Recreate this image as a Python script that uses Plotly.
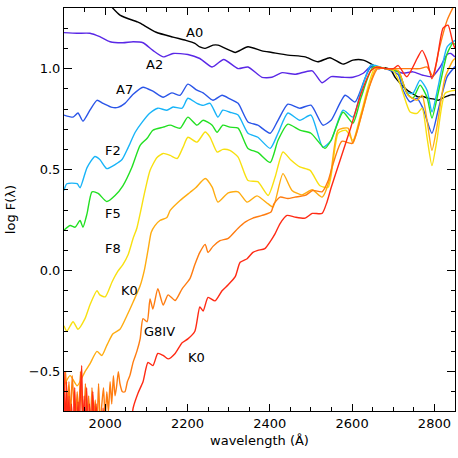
import plotly.graph_objects as go

# ---- data (wavelength in Angstrom, log F) ----
a0_wave = [2005, 2036, 2077, 2085, 2124, 2165, 2196, 2218, 2230, 2243, 2262, 2274, 2303, 2316, 2347,
           2381, 2405, 2444, 2486, 2517, 2546, 2578, 2602, 2627, 2651, 2663, 2680, 2695, 2705, 2720,
           2736, 2748, 2760, 2772, 2785, 2797, 2809, 2821, 2833, 2840, 2850]
a0_logf = [1.33, 1.265, 1.232, 1.225, 1.18, 1.156, 1.14, 1.125, 1.107, 1.1, 1.116, 1.116, 1.09, 1.08, 1.108,
           1.088, 1.08, 1.067, 1.058, 1.034, 1.054, 1.022, 1.042, 1.042, 1.017, 1.0, 1.005, 0.99, 0.955, 0.92,
           0.89, 0.875, 0.86, 0.862, 0.853, 0.85, 0.843, 0.855, 0.865, 0.87, 0.87]

a2_wave = [1900, 1932, 1963, 1987, 2012, 2043, 2068, 2092, 2116, 2141, 2165, 2201, 2230, 2260, 2288,
           2323, 2347, 2381, 2405, 2430, 2461, 2503, 2527, 2549, 2578, 2602, 2627, 2644, 2660, 2680,
           2700, 2724, 2748, 2772, 2794, 2814, 2831, 2840, 2850]
a2_logf = [1.178, 1.175, 1.175, 1.158, 1.133, 1.128, 1.133, 1.128, 1.09, 1.058, 1.075, 1.07, 1.05, 1.008, 1.045,
           1.0, 1.008, 0.957, 0.957, 0.98, 0.972, 0.989, 0.93, 0.96, 0.957, 0.957, 0.977, 1.008, 1.01, 1.0,
           0.993, 0.977, 0.984, 0.967, 0.96, 1.008, 1.07, 1.075, 1.058]

a7_wave = [1900, 1922, 1934, 1946, 1963, 1980, 1995, 2017, 2031, 2048, 2068, 2092, 2116, 2141, 2162,
           2182, 2201, 2223, 2238, 2262, 2284, 2303, 2323, 2347, 2371, 2401, 2420, 2444, 2473, 2500,
           2529, 2549, 2583, 2607, 2631, 2646, 2680, 2712, 2724, 2741, 2758, 2772, 2794, 2809, 2831, 2850]
a7_logf = [0.77, 0.76, 0.78, 0.74, 0.794, 0.843, 0.828, 0.808, 0.808, 0.828, 0.873, 0.908, 0.888, 0.858, 0.88,
           0.868, 0.923, 0.893, 0.88, 0.843, 0.868, 0.85, 0.828, 0.736, 0.72, 0.68, 0.744, 0.824, 0.804, 0.819,
           0.72, 0.744, 0.868, 0.835, 0.95, 1.008, 1.0, 0.97, 0.893, 0.835, 0.853, 0.804, 0.68, 0.794, 0.96, 1.01]

f2_wave = [1900, 1907, 1932, 1939, 1956, 1975, 1987, 2004, 2024, 2041, 2056, 2073, 2090, 2109, 2128,
           2150, 2165, 2187, 2201, 2223, 2238, 2255, 2274, 2286, 2303, 2323, 2347, 2371, 2401, 2420,
           2444, 2473, 2500, 2529, 2549, 2578, 2602, 2622, 2646, 2680, 2712, 2733, 2748, 2765, 2782,
           2794, 2809, 2831, 2850]
f2_logf = [0.397, 0.43, 0.43, 0.41, 0.51, 0.565, 0.55, 0.505, 0.525, 0.55, 0.61, 0.685, 0.735, 0.78, 0.804,
           0.794, 0.81, 0.804, 0.853, 0.828, 0.818, 0.828, 0.76, 0.794, 0.784, 0.77, 0.68, 0.66, 0.605, 0.68,
           0.78, 0.744, 0.77, 0.61, 0.645, 0.794, 0.76, 0.893, 1.017, 1.0, 0.985, 0.883, 0.878, 0.943, 0.893,
           0.785, 0.91, 1.108, 1.14]

f5_wave = [1900, 1915, 1927, 1939, 1946, 1956, 1968, 1983, 2004, 2024, 2043, 2065, 2085, 2102, 2116,
           2141, 2158, 2182, 2201, 2223, 2238, 2260, 2272, 2286, 2303, 2323, 2347, 2371, 2401, 2420,
           2444, 2473, 2500, 2534, 2549, 2578, 2602, 2622, 2651, 2680, 2712, 2733, 2748, 2765, 2782,
           2794, 2809, 2831, 2845, 2850]
f5_logf = [0.2, 0.223, 0.215, 0.248, 0.215, 0.282, 0.39, 0.382, 0.342, 0.372, 0.42, 0.512, 0.62, 0.655, 0.695,
           0.71, 0.72, 0.705, 0.76, 0.72, 0.744, 0.72, 0.685, 0.72, 0.71, 0.705, 0.605, 0.585, 0.535, 0.645,
           0.725, 0.695, 0.68, 0.605, 0.645, 0.784, 0.73, 0.858, 1.008, 1.0, 0.985, 0.878, 0.853, 0.918, 0.858,
           0.755, 0.878, 1.075, 1.126, 1.12]

f8_wave = [1900, 1907, 1922, 1934, 1951, 1963, 1980, 1987, 2000, 2017, 2031, 2043, 2056, 2068, 2077,
           2085, 2097, 2109, 2126, 2141, 2158, 2175, 2189, 2201, 2223, 2243, 2255, 2272, 2286, 2303,
           2323, 2347, 2371, 2396, 2413, 2432, 2452, 2473, 2498, 2522, 2542, 2566, 2585, 2602, 2622,
           2656, 2680, 2700, 2716, 2724, 2741, 2758, 2770, 2782, 2794, 2806, 2826, 2850]
f8_logf = [-0.273, -0.3, -0.253, -0.29, -0.238, -0.17, -0.1, -0.12, -0.13, -0.055, -0.003, 0.03, 0.08, 0.16, 0.21,
           0.282, 0.397, 0.496, 0.56, 0.58, 0.57, 0.555, 0.61, 0.66, 0.636, 0.686, 0.66, 0.587, 0.6, 0.595,
           0.562, 0.446, 0.44, 0.372, 0.463, 0.587, 0.546, 0.513, 0.496, 0.42, 0.413, 0.68, 0.695, 0.645, 0.78,
           1.008, 1.0, 0.99, 0.928, 0.878, 0.785, 0.778, 0.804, 0.66, 0.52, 0.645, 0.878, 0.893]

k0a_wave = [1900, 1915, 1932, 1951, 1963, 1980, 1992, 2004, 2019, 2036, 2053, 2068, 2085, 2095, 2104,
            2112, 2121, 2133, 2150, 2158, 2182, 2206, 2220, 2243, 2260, 2274, 2299, 2323, 2345, 2369,
            2396, 2408, 2432, 2454, 2478, 2503, 2527, 2546, 2566, 2590, 2602, 2627, 2658, 2680, 2712,
            2724, 2736, 2758, 2770, 2782, 2794, 2806, 2826, 2845, 2850]
k0a_logf = [-0.57, -0.52, -0.57, -0.5, -0.462, -0.4, -0.42, -0.37, -0.313, -0.29, -0.222, -0.155, -0.075, 0.0, 0.1,
            0.19, 0.223, 0.248, 0.263, 0.298, 0.347, 0.387, 0.41, 0.456, 0.413, 0.339, 0.385, 0.39, 0.339, 0.37,
            0.33, 0.315, 0.48, 0.397, 0.375, 0.4, 0.364, 0.456, 0.695, 0.705, 0.63, 0.8, 1.0, 1.0, 0.99,
            0.93, 0.868, 0.843, 0.868, 0.744, 0.595, 0.71, 0.957, 1.04, 1.05]

g8_wave = [1900, 1904, 1908, 1912, 1916, 1920, 1924, 1928, 1932, 1936, 1940, 1944, 1948, 1952, 1956,
           1960, 1964, 1968, 1972, 1976, 1980, 1984, 1988, 1992, 1996, 2000, 2004, 2008, 2012, 2016,
           2020, 2024, 2028, 2032, 2036, 2042, 2048, 2054, 2060, 2068,
           2077, 2085, 2092, 2102, 2109, 2116, 2128, 2141, 2153, 2170, 2187, 2206, 2218, 2230, 2243,
           2250, 2262, 2279, 2299, 2323, 2340, 2359, 2381, 2403, 2410, 2425, 2444, 2461, 2486, 2505,
           2527, 2542, 2554, 2575, 2600, 2620, 2640, 2662, 2690, 2716, 2741, 2765, 2782, 2797, 2809,
           2831, 2852]
g8_logf = [-0.62, -0.5, -0.7, -0.55, -0.72, -0.52, -0.66, -0.75, -0.6, -0.72, -0.5, -0.68, -0.78, -0.56, -0.72,
           -0.62, -0.78, -0.58, -0.74, -0.64, -0.78, -0.56, -0.76, -0.66, -0.58, -0.74, -0.6, -0.7, -0.55, -0.66,
           -0.52, -0.62, -0.57, -0.5, -0.56, -0.6, -0.6, -0.55, -0.52, -0.453,
           -0.4, -0.338, -0.238, -0.253, -0.14, -0.19, -0.09, -0.17, -0.12, -0.148, -0.09, -0.04, 0.03, 0.09, 0.13,
           0.09, 0.12, 0.148, 0.16, 0.21, 0.24, 0.26, 0.273, 0.29, 0.33, 0.364, 0.357, 0.364, 0.372, 0.397,
           0.39, 0.446, 0.53, 0.64, 0.63, 0.75, 0.9, 1.0, 1.0, 1.0, 1.0, 1.0, 1.008, 0.96, 1.075,
           1.24, 1.33]

k0b_wave = [1900, 1903, 1906, 1909, 1912, 1915, 1918, 1922, 1926, 1930, 1934, 1937, 1940, 1943, 1946,
            1949, 1952, 1955, 1958, 1962, 1966, 1970, 1974, 1978, 1982, 1986, 1990, 1995, 2000, 2005,
            2010, 2015, 2022, 2030, 2038, 2045, 2052, 2060, 2068, 2080, 2092, 2104, 2116, 2128, 2141,
            2153, 2170, 2187,
            2201, 2218, 2230, 2238, 2250, 2267, 2284, 2299, 2316, 2328, 2345, 2359, 2371, 2388, 2403,
            2413, 2425, 2442, 2461, 2486, 2503, 2527, 2539, 2549, 2573, 2597, 2622, 2646, 2660, 2680,
            2700, 2712, 2733, 2758, 2770, 2782, 2794, 2806, 2821, 2833, 2845, 2850]
k0b_logf = [-0.5, -0.8, -0.55, -0.78, -0.62, -0.82, -0.66, -0.8, -0.58, -0.82, -0.65, -0.8, -0.6, -0.47, -0.8,
            -0.62, -0.82, -0.58, -0.8, -0.66, -0.82, -0.6, -0.8, -0.66, -0.82, -0.7, -0.84, -0.68, -0.82, -0.72,
            -0.85, -0.7, -0.84, -0.75, -0.86, -0.8, -0.86, -0.8, -0.68, -0.606, -0.55, -0.455, -0.47, -0.41, -0.42,
            -0.437, -0.41, -0.357,
            -0.338, -0.3, -0.18, -0.2, -0.133, -0.15, -0.1, -0.07, -0.03, 0.041, 0.059, 0.09, 0.1, 0.109, 0.15,
            0.183, 0.233, 0.273, 0.265, 0.26, 0.283, 0.283, 0.34, 0.41, 0.56, 0.71, 0.878, 0.99, 1.008, 1.0,
            1.0, 1.015, 0.96, 1.05, 1.09, 1.04, 0.95, 1.04, 1.2, 1.215, 1.126, 1.1]

series = [
    ("A0", a0_wave, a0_logf, "#000000"),
    ("A2", a2_wave, a2_logf, "#5a28e6"),
    ("A7", a7_wave, a7_logf, "#2a55e8"),
    ("F2", f2_wave, f2_logf, "#18b4f8"),
    ("F5", f5_wave, f5_logf, "#22e022"),
    ("F8", f8_wave, f8_logf, "#f8e010"),
    ("K0", k0a_wave, k0a_logf, "#ffac10"),
    ("G8IV", g8_wave, g8_logf, "#ff7c10"),
    ("K0 ", k0b_wave, k0b_logf, "#ff2a14"),
]

label_text = ["A0", "A2", "A7", "F2", "F5", "F8", "K0", "G8IV", "K0"]
label_x = [2218, 2119, 2048, 2019, 2019, 2019, 2060, 2133, 2221]
label_y = [1.178, 1.02, 0.898, 0.595, 0.283, 0.107, -0.10, -0.303, -0.432]

FONT = "DejaVu Sans"

fig = go.Figure()
for name, w, f, c in series:
    fig.add_trace(go.Scatter(x=w, y=f, mode="lines", name=name,
                             line=dict(color=c, width=1.4, shape="spline", smoothing=0.6),
                             showlegend=False))

for t, x, y in zip(label_text, label_x, label_y):
    fig.add_annotation(x=x, y=y, text=t, showarrow=False,
                       font=dict(size=13, color="black", family=FONT))

axis_common = dict(showline=True, linecolor="black", linewidth=1, mirror="allticks",
                   ticks="inside", tickcolor="black", showgrid=False, zeroline=False,
                   automargin=False,
                   tickfont=dict(size=13, color="black", family=FONT))

fig.update_layout(
    width=458, height=458,
    margin=dict(l=64, r=3, t=8, b=47),
    plot_bgcolor="white", paper_bgcolor="white",
    font=dict(family=FONT, color="black"),
    xaxis=dict(range=[1900, 2850], tickvals=[2000, 2200, 2400, 2600, 2800], ticklen=7,
               minor=dict(ticks="inside", dtick=50, tick0=1900, ticklen=4, tickcolor="black", showgrid=False),
               title=dict(text="wavelength (Å)", font=dict(size=13), standoff=6),
               **axis_common),
    yaxis=dict(range=[-0.695, 1.3], tickvals=[-0.5, 0.0, 0.5, 1.0], ticktext=["\u22120.5", "0.0", "0.5", "1.0"],
               ticklen=8,
               minor=dict(ticks="inside", dtick=0.1, tick0=0, ticklen=4, tickcolor="black", showgrid=False),
               title=dict(text="log F(λ)", font=dict(size=13), standoff=10),
               **axis_common),
)

fig.write_html("out.html", config={"displayModeBar": False},
               post_script="document.body.style.margin='0';document.body.style.overflow='hidden';")
